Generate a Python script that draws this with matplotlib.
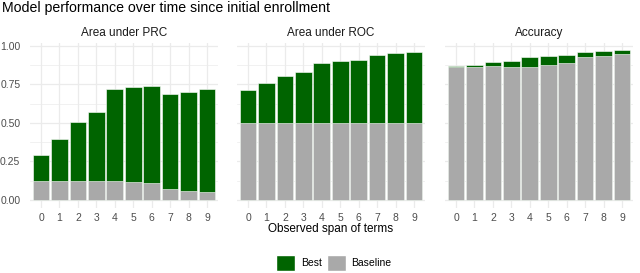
import numpy as np
import matplotlib
matplotlib.use("Agg")
from matplotlib import pyplot as plt
from matplotlib.patches import Patch

plt.rcParams['font.family'] = ['Liberation Sans', 'DejaVu Sans']

terms = [0, 1, 2, 3, 4, 5, 6, 7, 8, 9]
panel_titles = ["Area under PRC", "Area under ROC", "Accuracy"]

prc_best = [0.292, 0.394, 0.505, 0.573, 0.717, 0.732, 0.736, 0.688, 0.702, 0.717]
prc_base = [0.126, 0.126, 0.126, 0.126, 0.126, 0.120, 0.109, 0.070, 0.061, 0.054]

roc_best = [0.712, 0.760, 0.802, 0.828, 0.885, 0.900, 0.908, 0.939, 0.954, 0.959]
roc_base = [0.5, 0.5, 0.5, 0.5, 0.5, 0.5, 0.5, 0.5, 0.5, 0.5]

acc_best = [0.869, 0.878, 0.893, 0.902, 0.928, 0.935, 0.941, 0.959, 0.965, 0.969]
acc_base = [0.865, 0.865, 0.867, 0.865, 0.865, 0.874, 0.887, 0.924, 0.932, 0.943]

best_color = "#006400"
base_color = "#A9A9A9"
grid_color = "#EBEBEB"
text_color = "#4D4D4D"

W, H = 640, 273
fig = plt.figure(figsize=(W / 100, H / 100), dpi=100)

panels = [(prc_best, prc_base), (roc_best, roc_base), (acc_best, acc_base)]
x_lefts = [30, 237, 445]
pw = 188
top, bottom = 43, 207.5

ymax = max(max(p[0]) for p in panels)
ylo, yhi = -0.05 * ymax, ymax * 1.05

for i, ((best, base), title) in enumerate(zip(panels, panel_titles)):
    ax = fig.add_axes([x_lefts[i] / W, (H - bottom) / H, pw / W, (bottom - top) / H])
    x = np.array(terms)
    # grid
    for yv in np.arange(0, 1.01, 0.125):
        lw = 0.9 if abs(yv * 4 - round(yv * 4)) < 1e-9 else 0.5
        ax.axhline(yv, color=grid_color, lw=lw, zorder=0)
    for xv in x:
        ax.axvline(xv, color=grid_color, lw=0.9, zorder=0)
    ax.bar(x, best, width=0.9, color=best_color, edgecolor="white", linewidth=0.4, zorder=2)
    ax.bar(x, base, width=0.9, color=base_color, edgecolor="white", linewidth=0.4, zorder=3)
    ax.set_xlim(-0.6, 9.6)
    ax.set_ylim(ylo, yhi)
    ax.set_xticks(x)
    ax.set_xticklabels([str(t) for t in terms], fontsize=7.5, color=text_color)
    ax.tick_params(axis="x", length=0, pad=4)
    ax.tick_params(axis="y", length=0, pad=7)
    if i == 0:
        ax.set_yticks([0, 0.25, 0.5, 0.75, 1.0])
        ax.set_yticklabels(["0.00", "0.25", "0.50", "0.75", "1.00"], fontsize=7.5, color=text_color)
    else:
        ax.set_yticks([])
    for s in ax.spines.values():
        s.set_visible(False)
    ax.set_title(title, fontsize=8.5, color="#1A1A1A", pad=5)

fig.text(2 / W, 1 - 8 / H, "Model performance over time since initial enrollment",
         fontsize=10.2, color="black", ha="left", va="center")
fig.text((x_lefts[1] + pw / 2) / W, 1 - 229 / H, "Observed span of terms",
         fontsize=8.5, color="black", ha="center", va="center")

handles = [Patch(facecolor=best_color, edgecolor="white", label="Best"),
           Patch(facecolor=base_color, edgecolor="white", label="Baseline")]
fig.legend(handles=handles, loc="center", bbox_to_anchor=(334 / W, 1 - 263 / H), ncol=2,
           frameon=False, fontsize=7.5, handlelength=1.8, handleheight=1.9,
           columnspacing=0.5, handletextpad=0.55)

fig.savefig("out.png", dpi=100, facecolor="white")
